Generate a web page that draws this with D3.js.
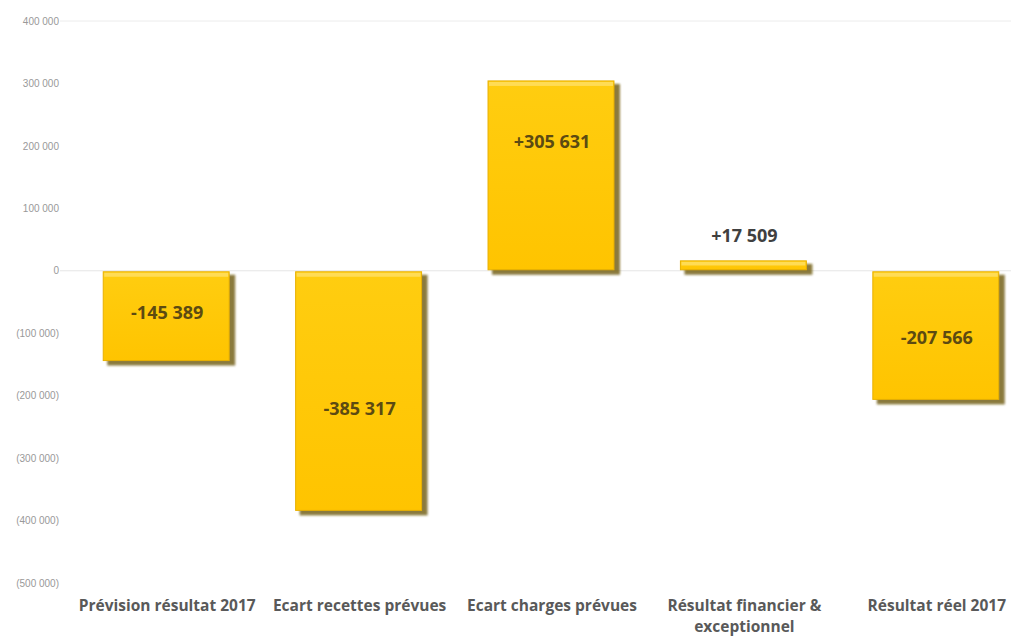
<!DOCTYPE html>
<html><head><meta charset="utf-8">
<script src="https://cdn.jsdelivr.net/npm/d3@7"></script>
<style>body{margin:0;background:#fff}svg{display:block}</style>
</head><body>
<svg id="c" width="1011" height="639"></svg>
<script>
const categories = ["Prévision résultat 2017","Ecart recettes prévues","Ecart charges prévues","Résultat financier & exceptionnel","Résultat réel 2017"];
const values = [-145389,-385317,305631,17509,-207566];
const labels = ["-145 389","-385 317","+305 631","+17 509","-207 566"];
const labelAt = [-69000,-223000,205000,54000,-109000];
const tickValues = [400000,300000,200000,100000,0,-100000,-200000,-300000,-400000,-500000];
const tickLabels = ["400 000","300 000","200 000","100 000","0","(100 000)","(200 000)","(300 000)","(400 000)","(500 000)"];

const svg = d3.select("#c");
const y = d3.scaleLinear().domain([-500000,400000]).range([583,21]);
const x = d3.scaleBand().domain(categories).range([71,1033]).paddingInner(0.335).paddingOuter(0.1675);

const defs = svg.append("defs");
const g1 = defs.append("linearGradient").attr("id","fillg").attr("x1",0).attr("x2",0).attr("y1",0).attr("y2",1);
g1.append("stop").attr("offset","0%").attr("stop-color","#FFCD10");
g1.append("stop").attr("offset","100%").attr("stop-color","#FFC400");
const f = defs.append("filter").attr("id","blur").attr("x","-10%").attr("y","-10%").attr("width","130%").attr("height","130%");
f.append("feGaussianBlur").attr("stdDeviation",1.2);

// gridlines
svg.append("line").attr("x1",60).attr("x2",1011).attr("y1",y(400000)).attr("y2",y(400000)).attr("stroke","#ececec");
svg.append("line").attr("x1",60).attr("x2",1011).attr("y1",y(0)).attr("y2",y(0)).attr("stroke","#e6e6e6");

// y axis labels
const yAxis = d3.axisLeft(y).tickValues(tickValues).tickFormat((d,i)=>tickLabels[i]).tickSize(0).tickPadding(0);
const ya = svg.append("g").attr("transform","translate(59,0)").call(yAxis);
ya.select(".domain").remove();
ya.selectAll("text").attr("font-family","'Liberation Sans', sans-serif").attr("font-size",10).attr("fill","#999999");

const data = categories.map((c,i)=>({c,v:values[i],l:labels[i],la:labelAt[i]}));
// shadows
svg.selectAll(".sh").data(data).join("rect")
  .attr("x",d=>x(d.c)+4).attr("y",d=>Math.min(y(d.v),y(0))+4)
  .attr("width",x.bandwidth()).attr("height",d=>Math.max(3,Math.abs(y(d.v)-y(0))))
  .attr("fill","#6e5a10").attr("opacity",0.8).attr("filter","url(#blur)");
// bars
svg.selectAll(".bar").data(data).join("rect")
  .attr("x",d=>x(d.c)).attr("y",d=>Math.min(y(d.v),y(0))+1)
  .attr("width",x.bandwidth()-2).attr("height",d=>Math.max(3,Math.abs(y(d.v)-y(0))-2))
  .attr("fill","url(#fillg)").attr("stroke","#E8B000").attr("stroke-width",1);
// top highlight
svg.selectAll(".hl").data(data).join("rect")
  .attr("x",d=>x(d.c)+1).attr("y",d=>Math.min(y(d.v),y(0))+2)
  .attr("width",x.bandwidth()-4).attr("height",d=>Math.min(4,Math.abs(y(d.v)-y(0))/3))
  .attr("fill","#FFE066").attr("opacity",0.8);

// value labels
svg.selectAll(".vl").data(data).join("text")
  .attr("x",d=>x(d.c)+x.bandwidth()/2).attr("y",d=>y(d.la))
  .attr("text-anchor","middle").attr("dominant-baseline","middle")
  .attr("font-family","'Open Sans', sans-serif").attr("font-weight","bold").attr("font-size",18)
  .attr("fill",d=>Math.abs(d.v)>50000?"#5c4a12":"#404040")
  .text(d=>d.l);

// category labels
const xa = svg.append("g");
data.forEach(d=>{
  const t = xa.append("text").attr("x",x(d.c)+x.bandwidth()/2).attr("y",611)
    .attr("text-anchor","middle").attr("font-family","'Open Sans', sans-serif").attr("font-weight","bold")
    .attr("font-size",15.5).attr("fill","#595959");
  const parts = d.c==="Résultat financier & exceptionnel" ? ["Résultat financier &","exceptionnel"] : [d.c];
  parts.forEach((p,i)=>t.append("tspan").attr("x",x(d.c)+x.bandwidth()/2).attr("dy",i?21:0).text(p));
});
</script>
</body></html>
